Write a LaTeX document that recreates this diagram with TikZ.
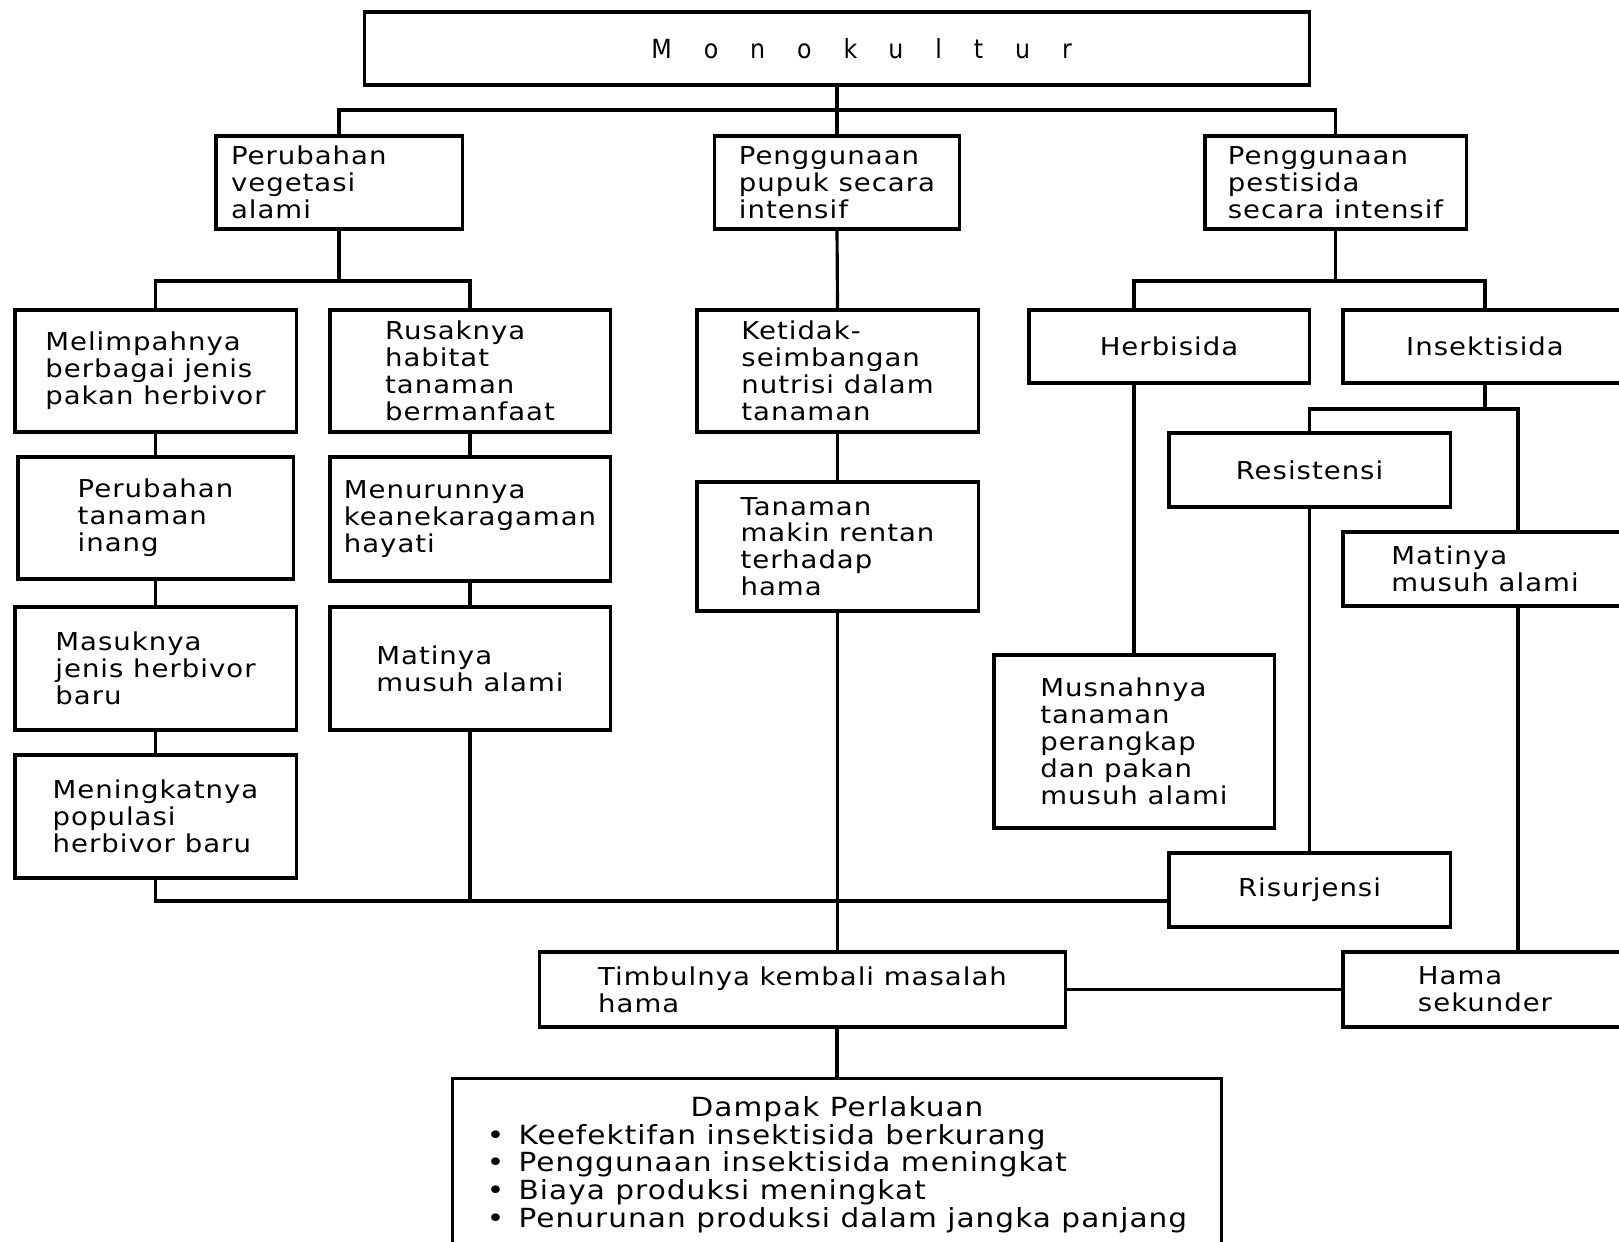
\documentclass[tikz,border=0pt]{standalone}
\usepackage{fontspec}
\newfontfamily\boxfont[FakeStretch=1.12, LetterSpace=4]{DejaVu Sans}
\newfontfamily\titlefont[LetterSpace=121]{DejaVu Sans Condensed}
\tikzset{
  box/.style={draw, line width=0.9pt, align=left, inner sep=2pt,
    font=\boxfont\fontsize{7pt}{7.64pt}\selectfont},
  link/.style={line width=0.9pt}
}
\newcommand{\bul}{\makebox[9pt][l]{•}}
\begin{document}
\begin{tikzpicture}[x=0.01cm, y=-0.01cm]
\useasboundingbox (0,0) rectangle (1619,1241);
\clip (0,0) rectangle (1619,1241);

% top
\node[box, minimum width=9.44cm, minimum height=0.73cm,
  font=\titlefont\fontsize{7.5pt}{9pt}\selectfont] (mono) at (837,48.5) {\hspace*{14pt}Monokultur};

% three causes
\node[box, text width=61.4pt, inner xsep=4.3pt, minimum height=0.93cm] (veg) at (339,182.5) {Perubahan\\vegetasi\\alami};
\node[box, minimum width=2.45cm, minimum height=0.93cm] (pupuk) at (837,182.5) {Penggunaan\\pupuk secara\\intensif};
\node[box, minimum width=2.61cm, minimum height=0.93cm] (pest) at (1335.5,182.5) {Penggunaan\\pestisida\\secara intensif};

% left branch
\node[box, minimum width=2.81cm, minimum height=1.22cm] (limpah) at (155.5,371) {Melimpahnya\\berbagai jenis\\pakan herbivor};
\node[box, minimum width=2.75cm, minimum height=1.22cm] (inang) at (155.5,518) {Perubahan\\tanaman\\inang};
\node[box, minimum width=2.81cm, minimum height=1.23cm] (masuk) at (155.5,668.5) {Masuknya\\jenis herbivor\\baru};
\node[box, minimum width=2.81cm, minimum height=1.23cm] (tingkat) at (155.5,816.5) {Meningkatnya\\populasi\\herbivor baru};
\node[box, minimum width=2.80cm, minimum height=1.22cm] (rusak) at (470,371) {Rusaknya\\habitat\\tanaman\\bermanfaat};
\node[box, minimum width=2.80cm, minimum height=1.24cm] (turun) at (470,519) {Menurunnya\\keanekaragaman\\hayati};
\node[box, minimum width=2.80cm, minimum height=1.23cm] (mati1) at (470,668.5) {Matinya\\musuh alami};

% middle branch
\node[box, minimum width=2.81cm, minimum height=1.22cm] (nutrisi) at (837.5,371) {Ketidak-\\seimbangan\\nutrisi dalam\\tanaman};
\node[box, minimum width=2.81cm, minimum height=1.29cm] (rentan) at (837.5,546.5) {Tanaman\\makin rentan\\terhadap\\hama};

% right branch
\node[box, minimum width=2.80cm, minimum height=0.73cm] (herbi) at (1169,346.5) {Herbisida};
\node[box, minimum width=2.84cm, minimum height=0.73cm] (insek) at (1485,346.5) {Insektisida};
\node[box, minimum width=2.81cm, minimum height=0.74cm] (resis) at (1309.5,470) {Resistensi};
\node[box, minimum width=2.84cm, minimum height=0.74cm] (mati2) at (1485,569) {Matinya\\musuh alami};
\node[box, minimum width=2.80cm, minimum height=1.73cm] (musnah) at (1134,741.5) {Musnahnya\\tanaman\\perangkap\\dan pakan\\musuh alami};
\node[box, minimum width=2.81cm, minimum height=0.74cm] (risur) at (1309.5,890) {Risurjensi};
\node[box, minimum width=2.84cm, minimum height=0.75cm] (hama2) at (1485,989.5) {Hama\\sekunder};

% result
\node[box, minimum width=5.25cm, minimum height=0.75cm] (timbul) at (802.5,989.5) {Timbulnya kembali masalah\\hama};
\node[box, anchor=north, minimum width=7.69cm, inner ysep=5pt,
  font=\boxfont\fontsize{7.5pt}{7.4pt}\selectfont] (dampak) at (837,1077) {\begin{tabular}{@{}l@{}}
  \multicolumn{1}{@{}c@{}}{Dampak Perlakuan}\\
  \bul Keefektifan insektisida berkurang\\
  \bul Penggunaan insektisida meningkat\\
  \bul Biaya produksi meningkat\\
  \bul Penurunan produksi dalam jangka panjang
\end{tabular}};

% buses
\coordinate (topbus) at (837,110);
\coordinate (vegbus) at (339,281);
\coordinate (pestbus) at (1335.5,281);
\coordinate (insbus) at (1518,409);
\coordinate (botbus) at (837,901);

\draw[link] (mono.south) -- (pupuk.north);
\draw[link] (veg.north) |- (topbus) -| (pest.north);

\draw[link] (veg.south) -- (vegbus);
\draw[link] (limpah.north) |- (vegbus) -| (rusak.north);
\draw[link] (limpah.south) -- (inang.north);
\draw[link] (inang.south) -- (masuk.north);
\draw[link] (masuk.south) -- (tingkat.north);
\draw[link] (rusak.south) -- (turun.north);
\draw[link] (turun.south) -- (mati1.north);
\draw[link] (tingkat.south) |- (risur.west |- botbus);
\draw[link] (mati1.south) -- (mati1.south |- botbus);

\draw[link] (pupuk.south) -- (nutrisi.north);
\draw[link] (nutrisi.south) -- (rentan.north);
\draw[link] (rentan.south) -- (rentan.south |- timbul.north);
\draw[link] (dampak.north) -- (dampak.north |- timbul.south);
\draw[link] (timbul.east) -- (hama2.west);

\draw[link] (pest.south) -- (pestbus);
\draw[link] (musnah.north |- herbi.north) |- (pestbus) -| (insek.north);
\draw[link] (musnah.north |- herbi.south) -- (musnah.north);
\draw[link] (insek.south) -- (insek.south |- insbus);
\draw[link] (resis.north) |- (insbus) -- (insbus |- mati2.north);
\draw[link] (insbus |- mati2.south) -- (insbus |- hama2.north);
\draw[link] (resis.south) -- (risur.north);
\end{tikzpicture}
\end{document}
